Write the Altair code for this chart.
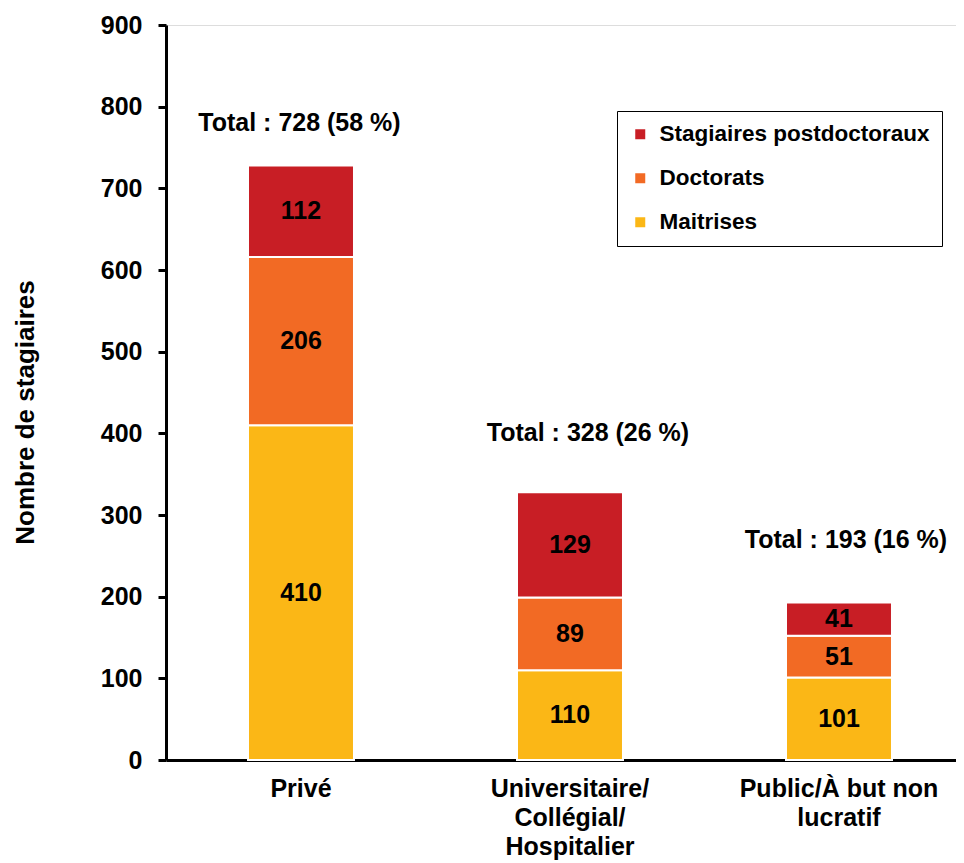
import altair as alt
import pandas as pd

categories = ["Privé", "Universitaire/\nCollégial/\nHospitalier", "Public/À but non\nlucratif"]
series = ["Stagiaires postdoctoraux", "Doctorats", "Maitrises"]
maitrises = [410, 110, 101]
doctorats = [206, 89, 51]
postdocs = [112, 129, 41]
totals = [728, 328, 193]
percents = [58, 26, 16]
colors = ["#C81E25", "#F26A24", "#FBB716"]

rows = []
for i, c in enumerate(categories):
    rows.append({"cat": c, "serie": "Maitrises", "value": maitrises[i], "ord": 0})
    rows.append({"cat": c, "serie": "Doctorats", "value": doctorats[i], "ord": 1})
    rows.append({"cat": c, "serie": "Stagiaires postdoctoraux", "value": postdocs[i], "ord": 2})
df = pd.DataFrame(rows)

tot_df = pd.DataFrame({
    "cat": categories,
    "total": totals,
    "label": [f"Total : {t} ({p} %)" for t, p in zip(totals, percents)],
})

FONT = "Liberation Sans"

xscale = alt.Scale(domain=categories, paddingInner=0.606, paddingOuter=0.2714, align=0.5616)
yscale = alt.Scale(domain=[0, 900], nice=False)

x_enc = alt.X(
    "cat:N",
    sort=categories,
    scale=xscale,
    title=None,
    axis=alt.Axis(
        labelAngle=0,
        labelExpr="split(datum.label, '\\n')",
        labelFontSize=25,
        labelFontWeight="bold",
        labelColor="black",
        labelLineHeight=29,
        labelPadding=16,
        labelLimit=400,
        ticks=False,
        tickSize=0,
        domainColor="black",
        domainWidth=3,
        labelFont=FONT,
    ),
)

base = alt.Chart(df).transform_stack(
    stack="value", groupby=["cat"], as_=["y0", "y1"],
    sort=[alt.SortField("ord", order="ascending")],
).transform_calculate(mid="(datum.y0 + datum.y1) / 2")

bars = base.mark_bar(stroke="white", strokeWidth=2).encode(
    x=x_enc,
    y=alt.Y(
        "y0:Q",
        scale=yscale,
        title="Nombre de stagiaires",
        axis=alt.Axis(
            values=[0, 100, 200, 300, 400, 500, 600, 700, 800, 900],
            grid=False,
            labelFontSize=25,
            labelFontWeight="bold",
            labelColor="black",
            labelFont=FONT,
            labelPadding=16,
            tickSize=8,
            tickWidth=3,
            tickColor="black",
            domainColor="black",
            domainWidth=3,
            titleFontSize=26,
            titleFontWeight="bold",
            titleColor="black",
            titleFont=FONT,
            titleAngle=270,
            titleBaseline="middle",
            titleAlign="center",
            titleX=-141,
            titleY=387,
        ),
    ),
    y2="y1:Q",
    color=alt.Color(
        "serie:N",
        scale=alt.Scale(domain=series, range=colors),
        legend=alt.Legend(
            title=None,
            orient="none",
            legendX=451,
            legendY=86,
            symbolType="square",
            symbolSize=100,
            symbolStrokeWidth=0,
            labelFontSize=22.5,
            labelFontWeight="bold",
            labelColor="black",
            labelFont=FONT,
            labelOffset=8,
            rowPadding=21,
            padding=12,
            strokeColor="black",
            labelLimit=400,
        ),
    ),
)

seg_text = base.mark_text(
    fontSize=25, fontWeight="bold", font=FONT, color="black", baseline="middle"
).encode(
    x=alt.X("cat:N", sort=categories, scale=xscale),
    y=alt.Y("mid:Q", scale=yscale),
    text="value:Q",
)

offsets = [(-1.5, -42), (18, -59), (7, -62)]
tot_layers = []
for c, (dx, dy) in zip(categories, offsets):
    tot_layers.append(
        alt.Chart(tot_df).transform_filter(alt.datum.cat == c).mark_text(
            fontSize=25, fontWeight="bold", font=FONT, color="black",
            baseline="middle", dx=dx, dy=dy,
        ).encode(
            x=alt.X("cat:N", sort=categories, scale=xscale),
            y=alt.Y("total:Q", scale=yscale),
            text="label:N",
        )
    )

chart = alt.layer(bars, seg_text, *tot_layers).properties(
    width=790,
    height=735,
    autosize=alt.AutoSizeParams(type="none"),
    padding={"left": 158, "top": 17, "right": 0, "bottom": 102},
).configure_view(stroke=None).configure(font=FONT)

chart.save("out.html", embed_options={"renderer": "svg", "actions": False})
